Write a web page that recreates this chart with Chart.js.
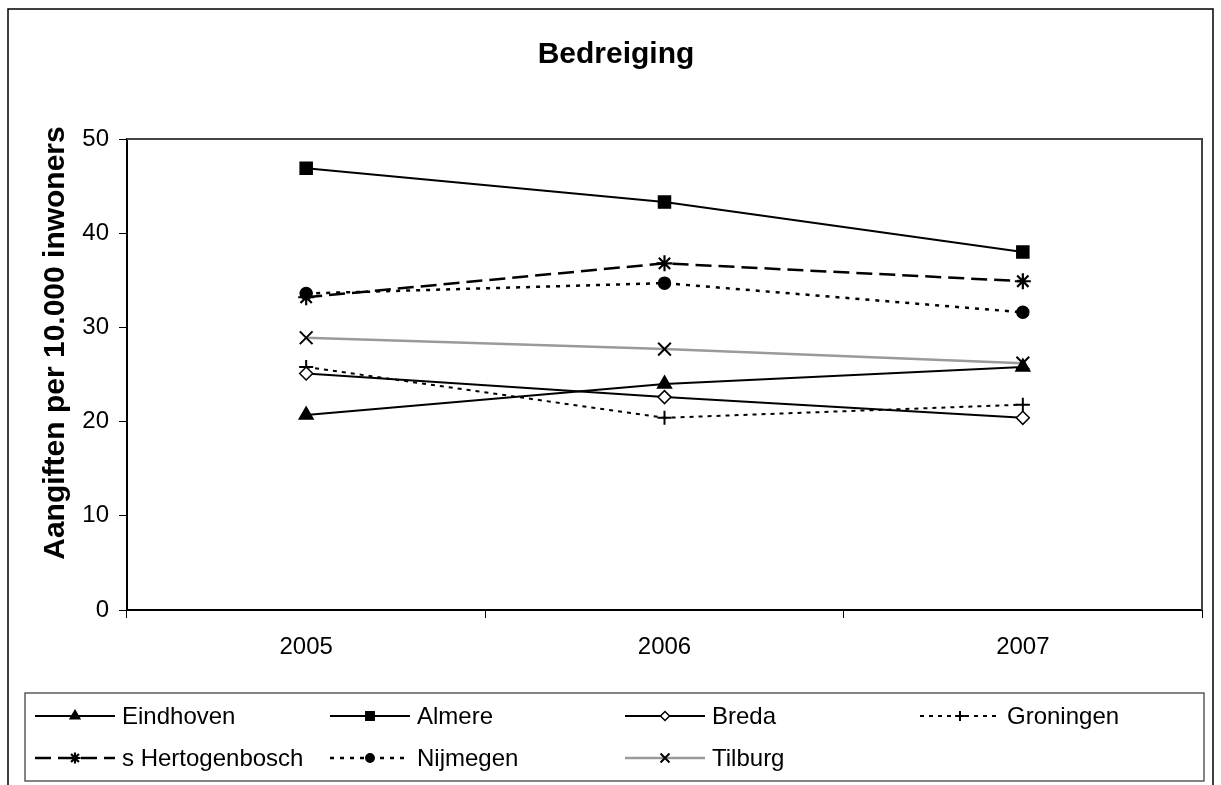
<!DOCTYPE html>
<html>
<head>
<meta charset="utf-8">
<title>Bedreiging</title>
<script src="https://cdn.jsdelivr.net/npm/chart.js@4.4.0/dist/chart.umd.min.js"></script>
<style>
  body { margin: 0; background: #fff; }
  canvas { display: block; }
</style>
</head>
<body>
<canvas id="chart" width="1221" height="785"></canvas>
<script>
// Aangiften bedreiging per 10.000 inwoners, per gemeente
const years = ['2005', '2006', '2007'];
const eindhoven = [20.7, 24.0, 25.8];
const almere = [46.9, 43.3, 38.0];
const breda = [25.1, 22.6, 20.4];
const groningen = [25.8, 20.4, 21.8];
const sHertogenbosch = [33.2, 36.8, 34.9];
const nijmegen = [33.6, 34.7, 31.6];
const tilburg = [28.9, 27.7, 26.2];
const yTicks = [0, 10, 20, 30, 40, 50];

const chartTitle = 'Bedreiging';
const yTitle = 'Aangiften per 10.000 inwoners';
const FONT = '"Liberation Sans", Arial, sans-serif';

function series(label, data, style) {
  return Object.assign({
    label: label,
    data: data,
    borderColor: '#000',
    borderWidth: 2,
    borderDash: [],
    pointBackgroundColor: '#000',
    pointBorderColor: '#000',
    pointBorderWidth: 1.5,
    pointRadius: 6,
    tension: 0
  }, style);
}

const datasets = [
  series('Eindhoven', eindhoven, { pointStyle: 'triangle', pointRadius: 8 }),
  series('Almere', almere, { pointStyle: 'rect', pointRadius: 8.5 }),
  series('Breda', breda, { pointStyle: 'rectRot', pointBackgroundColor: '#fff', pointRadius: 6.5 }),
  series('Groningen', groningen, { borderDash: [4, 5], pointStyle: 'cross', pointRadius: 7, pointBorderWidth: 2 }),
  series('s Hertogenbosch', sHertogenbosch, { borderWidth: 2.5, borderDash: [16, 7], pointStyle: 'star', pointRadius: 8, pointBorderWidth: 2.2 }),
  series('Nijmegen', nijmegen, { borderWidth: 2.5, borderDash: [4, 6], pointStyle: 'circle', pointRadius: 6 }),
  series('Tilburg', tilburg, { borderColor: '#9a9a9a', borderWidth: 2.5, pointStyle: 'crossRot', pointRadius: 9, pointBorderWidth: 2 })
];

// frame, titles, plot border and boxed legend
const decorPlugin = {
  id: 'decor',
  beforeDatasetsDraw(chart) {
    const a = chart.chartArea;
    const ctx = chart.ctx;
    ctx.save();
    ctx.strokeStyle = '#444';
    ctx.lineWidth = 2;
    ctx.beginPath();
    ctx.moveTo(a.left, a.top);
    ctx.lineTo(a.right, a.top);
    ctx.lineTo(a.right, a.bottom);
    ctx.stroke();
    ctx.restore();
  },
  afterDraw(chart) {
    const ctx = chart.ctx;
    ctx.save();

    // outer frame
    ctx.strokeStyle = '#000';
    ctx.lineWidth = 1.5;
    ctx.beginPath();
    ctx.moveTo(8, 790);
    ctx.lineTo(8, 9);
    ctx.lineTo(1213, 9);
    ctx.lineTo(1213, 790);
    ctx.stroke();

    // title
    ctx.fillStyle = '#000';
    ctx.font = 'bold 30px ' + FONT;
    ctx.textAlign = 'center';
    ctx.textBaseline = 'alphabetic';
    ctx.fillText(chartTitle, 616, 63);

    // y axis title
    ctx.save();
    ctx.translate(64, 343);
    ctx.rotate(-Math.PI / 2);
    ctx.fillText(yTitle, 0, 0);
    ctx.restore();

    // legend box
    ctx.strokeStyle = '#333';
    ctx.lineWidth = 1.2;
    ctx.strokeRect(25, 693, 1179, 88);

    chart.data.datasets.forEach((ds, i) => {
      const x = 35 + (i % 4) * 295;
      const y = 716 + Math.floor(i / 4) * 42;
      ctx.strokeStyle = ds.borderColor;
      ctx.lineWidth = ds.borderWidth;
      ctx.setLineDash(ds.borderDash);
      ctx.beginPath();
      ctx.moveTo(x, y);
      ctx.lineTo(x + 80, y);
      ctx.stroke();
      ctx.setLineDash([]);

      ctx.fillStyle = ds.pointBackgroundColor;
      ctx.strokeStyle = ds.pointBorderColor;
      ctx.lineWidth = ds.pointBorderWidth;
      Chart.helpers.drawPoint(ctx, {
        pointStyle: ds.pointStyle,
        radius: ds.pointRadius * 0.7,
        borderWidth: ds.pointBorderWidth,
        rotation: 0
      }, x + 40, y);

      ctx.fillStyle = '#000';
      ctx.font = '24px ' + FONT;
      ctx.textAlign = 'left';
      ctx.textBaseline = 'middle';
      ctx.fillText(ds.label, x + 87, y + 1);
    });

    ctx.restore();
  }
};

new Chart(document.getElementById('chart'), {
  type: 'line',
  data: { labels: years, datasets: datasets },
  plugins: [decorPlugin],
  options: {
    responsive: false,
    animation: false,
    devicePixelRatio: 1,
    layout: { padding: { top: 139, left: 0, right: 19, bottom: 115 } },
    plugins: {
      legend: { display: false },
      title: { display: false },
      tooltip: { enabled: false }
    },
    scales: {
      x: {
        offset: true,
        afterFit(scale) { scale.height = 60; },
        grid: { offset: true, drawOnChartArea: false, drawTicks: true, tickLength: 8, color: '#000' },
        border: { color: '#000', width: 2 },
        ticks: { color: '#000', padding: 15, font: { family: FONT, size: 24 } }
      },
      y: {
        min: 0,
        max: 50,
        afterFit(scale) { scale.width = 127; },
        afterBuildTicks(scale) { scale.ticks = yTicks.map(v => ({ value: v })); },
        grid: { drawOnChartArea: false, drawTicks: true, tickLength: 8, color: '#000' },
        border: { color: '#000', width: 2 },
        ticks: { color: '#000', padding: 10, font: { family: FONT, size: 24 } }
      }
    }
  }
});
</script>
</body>
</html>
